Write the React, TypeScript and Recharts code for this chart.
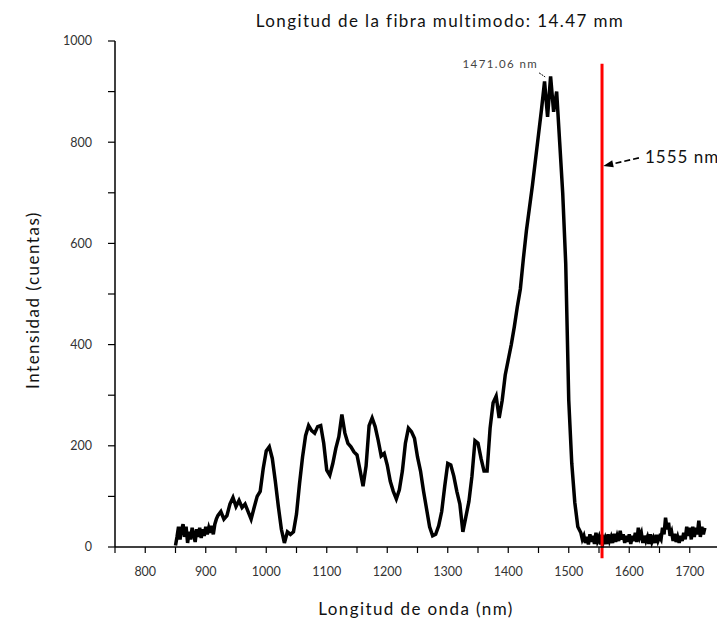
import React from 'react';
import { LineChart, Line, XAxis, YAxis, ReferenceLine } from 'recharts';

const chartTitle = 'Longitud de la fibra multimodo: 14.47 mm';
const xLabel = 'Longitud de onda (nm)';
const yLabel = 'Intensidad (cuentas)';

// leading noise region (2.5 nm spacing)
const wavelengthLead = [
  850, 852.5, 855, 857.5, 860, 862.5, 865, 867.5, 870, 872.5,
  875, 877.5, 880, 882.5, 885, 887.5, 890, 892.5, 895, 897.5,
  900, 902.5, 905, 907.5, 910, 912.5, 915, 917.5,
];
const intensityLead = [
  3, 20, 40, 15, 35, 45, 20, 40, 8, 30,
  15, 38, 25, 10, 35, 20, 38, 18, 35, 22,
  40, 25, 38, 28, 42, 25, 45, 55,
];

// main spectrum (5 nm spacing)
const wavelengthMain = [
  920, 925, 930, 935, 940, 945,
  950, 955, 960, 965, 970, 975, 980, 985, 990, 995,
  1000, 1005, 1010, 1015, 1020, 1025, 1030, 1035, 1040, 1045,
  1050, 1055, 1060, 1065, 1070, 1075, 1080, 1085, 1090, 1095,
  1100, 1105, 1110, 1115, 1120, 1125, 1130, 1135, 1140, 1145,
  1150, 1155, 1160, 1165, 1170, 1175, 1180, 1185, 1190, 1195,
  1200, 1205, 1210, 1215, 1220, 1225, 1230, 1235, 1240, 1245,
  1250, 1255, 1260, 1265, 1270, 1275, 1280, 1285, 1290, 1295,
  1300, 1305, 1310, 1315, 1320, 1325, 1330, 1335, 1340, 1345,
  1350, 1355, 1360, 1365, 1370, 1375, 1380, 1385, 1390, 1395,
  1400, 1405, 1410, 1415, 1420, 1425, 1430, 1435, 1440, 1445,
  1450, 1455, 1460, 1465, 1470, 1475, 1480, 1485, 1490, 1495,
  1500, 1505, 1510, 1515,
];
const intensityMain = [
  62, 70, 55, 62, 85, 98,
  80, 92, 78, 85, 70, 55, 78, 100, 110, 155,
  190, 198, 175, 130, 80, 35, 8, 30, 25, 30,
  65, 125, 178, 220, 240, 230, 225, 238, 240, 205,
  152, 142, 165, 195, 218, 262, 225, 205, 198, 188,
  182, 152, 120, 160, 240, 255, 238, 211, 180, 185,
  162, 130, 110, 95, 113, 150, 205, 235, 228, 215,
  178, 150, 110, 75, 40, 22, 25, 42, 70, 120,
  165, 162, 140, 110, 85, 30, 60, 90, 140, 210,
  205, 175, 150, 150, 235, 285, 298, 255, 290, 340,
  370, 400, 435, 475, 510, 570, 625, 670, 715, 765,
  815, 865, 920, 850, 930, 860, 900, 800, 700, 560,
  290, 165, 88, 40,
];

// trailing noise region (2.5 nm spacing)
const wavelengthTail = [
  1520, 1522.5, 1525, 1527.5, 1530, 1532.5, 1535, 1537.5, 1540, 1542.5,
  1545, 1547.5, 1550, 1552.5, 1555, 1557.5, 1560, 1562.5, 1565, 1567.5,
  1570, 1572.5, 1575, 1577.5, 1580, 1582.5, 1585, 1587.5, 1590, 1592.5,
  1595, 1597.5, 1600, 1602.5, 1605, 1607.5, 1610, 1612.5, 1615, 1617.5,
  1620, 1622.5, 1625, 1627.5, 1630, 1632.5, 1635, 1637.5, 1640, 1642.5,
  1645, 1647.5, 1650, 1652.5, 1655, 1657.5, 1660, 1662.5, 1665, 1667.5,
  1670, 1672.5, 1675, 1677.5, 1680, 1682.5, 1685, 1687.5, 1690, 1692.5,
  1695, 1697.5, 1700, 1702.5, 1705, 1707.5, 1710, 1712.5, 1715, 1717.5,
  1720, 1722.5, 1725,
];
const intensityTail = [
  28, 15, 22, 8, 20, 5, 25, 10, 22, 6,
  28, 12, 20, 5, 24, 10, 18, 6, 25, 12,
  20, 8, 26, 10, 22, 12, 32, 15, 25, 8,
  22, 10, 25, 6, 22, 12, 28, 10, 38, 20,
  28, 8, 22, 12, 20, 6, 25, 10, 18, 8,
  24, 12, 20, 15, 38, 25, 58, 35, 48, 22,
  30, 12, 26, 10, 20, 8, 22, 12, 28, 15,
  40, 22, 38, 15, 40, 20, 38, 25, 52, 20,
  40, 25, 38,
];

const xTicks = [750, 800, 850, 900, 950, 1000, 1050, 1100, 1150, 1200, 1250, 1300, 1350, 1400, 1450, 1500, 1550, 1600, 1650, 1700, 1750];
const yTicks = [0, 100, 200, 300, 400, 500, 600, 700, 800, 900, 1000];

const markerWavelength = 1555;
const markerLabel = '1555 nm';
const markerTop = 955;
const markerBottom = -22;
const arrowFrom = { x: 1616, y: 769 };
const arrowTo = { x: 1557, y: 753 };

const peakLabel = '1471.06 nm';
const peakLeaderFrom = { x: 1451, y: 937 };
const peakLeaderTo = { x: 1461, y: 929 };

const FONT = 'Lato, "Open Sans", sans-serif';

const wavelength = [...wavelengthLead, ...wavelengthMain, ...wavelengthTail];
const intensity = [...intensityLead, ...intensityMain, ...intensityTail];
const data = wavelength.map((w, i) => ({ wl: w, v: intensity[i] }));

const ArrowShape = (props: any) => {
  const { x1, y1, x2, y2 } = props;
  const ang = Math.atan2(y2 - y1, x2 - x1);
  const L = 10;
  const W = 3.5;
  const bx = x2 - L * Math.cos(ang);
  const by = y2 - L * Math.sin(ang);
  const px = -Math.sin(ang) * W;
  const py = Math.cos(ang) * W;
  return (
    <g>
      <line x1={x1} y1={y1} x2={bx} y2={by} stroke="#000" strokeWidth={1.6} strokeDasharray="6 3" />
      <polygon points={`${x2},${y2} ${bx + px},${by + py} ${bx - px},${by - py}`} fill="#000" />
      <text x={x1 + 6} y={y1 - 1} dominantBaseline="central" fontFamily={FONT} fontSize={17} letterSpacing={1} fill="#111">
        {markerLabel}
      </text>
    </g>
  );
};

const PeakShape = (props: any) => {
  const { x1, y1, x2, y2 } = props;
  return (
    <g>
      <line x1={x1} y1={y1} x2={x2} y2={y2} stroke="#000" strokeWidth={1} strokeDasharray="2 1" />
      <text x={x1 - 1} y={y1 - 9} textAnchor="end" dominantBaseline="central" fontFamily={FONT} fontSize={11.5} letterSpacing={1.4} fill="#444">
        {peakLabel}
      </text>
    </g>
  );
};

export default function App() {
  return (
    <div style={{ position: 'relative', width: 717, height: 612, fontFamily: FONT, background: '#fff' }}>
      <LineChart
        width={717}
        height={612}
        data={data}
        margin={{ top: 33, right: 5, left: 37, bottom: 33 }}
      >
        <XAxis
          type="number"
          dataKey="wl"
          domain={[750, 1750]}
          ticks={xTicks}
          interval={0}
          tickFormatter={(v: number) => (v % 100 === 0 ? String(v) : '')}
          tickSize={6}
          tickMargin={14}
          height={40}
          stroke="#000"
          axisLine={{ stroke: '#000', strokeWidth: 1.5 }}
          tickLine={{ stroke: '#000', strokeWidth: 1.2 }}
          tick={{ fill: '#333', fontSize: 12.5, fontFamily: FONT }}
        />
        <YAxis
          type="number"
          domain={[0, 1000]}
          ticks={yTicks}
          interval={0}
          tickFormatter={(v: number) => (v % 200 === 0 ? String(v) : '')}
          tickSize={7}
          tickMargin={16}
          width={70}
          stroke="#000"
          axisLine={{ stroke: '#000', strokeWidth: 1.5 }}
          tickLine={{ stroke: '#000', strokeWidth: 1.2 }}
          tick={{ fill: '#333', fontSize: 12.5, fontFamily: FONT }}
        />
        <Line
          type="linear"
          dataKey="v"
          stroke="#000"
          strokeWidth={3.5}
          dot={false}
          isAnimationActive={false}
        />
        <ReferenceLine
          segment={[{ x: markerWavelength, y: markerTop }, { x: markerWavelength, y: markerBottom }]}
          stroke="#ff0000"
          strokeWidth={3}
          ifOverflow="visible"
        />
        <ReferenceLine
          segment={[arrowFrom, arrowTo]}
          ifOverflow="visible"
          shape={ArrowShape}
        />
        <ReferenceLine
          segment={[peakLeaderFrom, peakLeaderTo]}
          ifOverflow="visible"
          shape={PeakShape}
        />
      </LineChart>
      <div style={{ position: 'absolute', left: 432, top: 12, transform: 'translate(-50%, -50%)', whiteSpace: 'nowrap', fontSize: 17, letterSpacing: 1.4, color: '#111' }}>
        {chartTitle}
      </div>
      <div style={{ position: 'absolute', left: 408, top: 600, transform: 'translate(-50%, -50%)', whiteSpace: 'nowrap', fontSize: 17, letterSpacing: 1.4, color: '#111' }}>
        {xLabel}
      </div>
      <div style={{ position: 'absolute', left: 24, top: 292, transform: 'translate(-50%, -50%) rotate(-90deg)', whiteSpace: 'nowrap', fontSize: 17, letterSpacing: 1.5, color: '#111' }}>
        {yLabel}
      </div>
    </div>
  );
}
